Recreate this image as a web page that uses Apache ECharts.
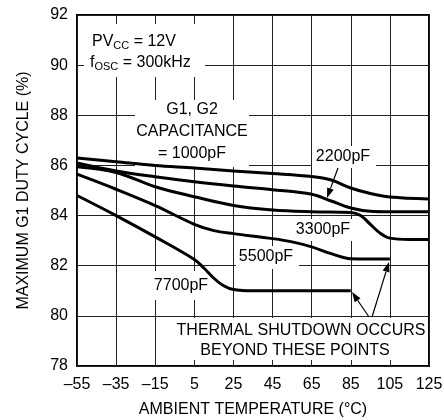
<!DOCTYPE html>
<html><head><meta charset="utf-8">
<script src="https://cdn.jsdelivr.net/npm/echarts@6/dist/echarts.min.js"></script>
<style>html,body{margin:0;padding:0;background:#fff}#c{width:444px;height:420px}</style>
</head><body><div id="c"></div>
<script>
// ---- data ----
const xTickLabels = ['–55','–35','–15','5','25','45','65','85','105','125'];
const yTicks = [78, 80, 82, 84, 86, 88, 90, 92];
const temps1000 = [-55,-35,-15,5,25,45,65,75,85,95,105,125];
const duty1000  = [86.3,86.15,86.0,85.9,85.78,85.68,85.56,85.42,85.1,84.88,84.74,84.66];
const temps2200 = [-55,-35,-15,5,25,45,65,75,85,95,105,125];
const duty2200  = [86.1,85.78,85.55,85.35,85.18,85.03,84.85,84.58,84.3,84.17,84.15,84.15];
const temps3300 = [-55,-35,-15,5,25,45,65,85,90,95,100,105,115,125];
const duty3300  = [85.95,85.72,85.15,84.75,84.4,84.22,84.15,84.12,84.0,83.65,83.3,83.1,83.05,83.05];
const temps5500 = [-55,-35,-15,5,15,25,45,55,65,75,85,95,105];
const duty5500  = [85.65,85.05,84.4,83.65,83.4,83.28,83.08,82.95,82.75,82.48,82.28,82.27,82.27];
const temps7700 = [-55,-35,-15,5,10,15,20,25,35,85];
const duty7700  = [84.8,84.0,83.15,82.25,81.9,81.5,81.2,81.05,81.0,81.0];
const X0 = -55; // axis origin (first tick)

const F = '"Liberation Sans", Arial, sans-serif';
const chart = echarts.init(document.getElementById('c'), null, {renderer:'canvas'});

function mk(t, v){ return t.map((x,i)=>[x - X0, v[i]]); }
function ser(t, v){
  return {type:'line', data:mk(t,v), smooth:0.35, symbol:'none', z:3,
    lineStyle:{color:'#000', width:3}, silent:true};
}
function txt(x,y,text,extra){
  return Object.assign({type:'text', x:x, y:y, z:10, silent:true,
    style:{text:text, font:'16px '+F, fill:'#000', align:'center', verticalAlign:'middle'}}, extra||{});
}
function box(x,y,w,h){
  return {type:'rect', z:1, silent:true, shape:{x:x,y:y,width:w,height:h}, style:{fill:'#fff'}};
}
function arrow(x1,y1,x2,y2){
  const a = Math.atan2(y2-y1, x2-x1), L=10, W=3.5;
  const bx = x2 - L*Math.cos(a), by = y2 - L*Math.sin(a);
  const px = -Math.sin(a)*W, py = Math.cos(a)*W;
  return [
    {type:'line', z:10, silent:true, shape:{x1:x1,y1:y1,x2:bx,y2:by}, style:{stroke:'#000', lineWidth:1.2}},
    {type:'polygon', z:10, silent:true, shape:{points:[[x2,y2],[bx+px,by+py],[bx-px,by-py]]}, style:{fill:'#000'}}
  ];
}
const rich = {a:{font:'16px '+F, fill:'#000'}, s:{font:'11px '+F, fill:'#000', padding:[7,0,0,0]}};

const graphics = [
  box(84,24,121,53),
  box(135,100,114,67),
  box(312,146,64,22),
  box(293,219,59,22),
  box(236,246,63,23),
  box(150,271,62,29),
  box(175,318,252,42),
  {type:'text', x:92, y:42, z:10, silent:true, style:{text:'{a|PV}{s|CC}{a| = 12V}', rich:rich, align:'left', verticalAlign:'middle'}},
  {type:'text', x:90, y:63, z:10, silent:true, style:{text:'{a|f}{s|OSC}{a| = 300kHz}', rich:rich, align:'left', verticalAlign:'middle'}},
  txt(192,110,'G1, G2'),
  txt(192,132,'CAPACITANCE'),
  txt(192,154,'= 1000pF'),
  txt(343,157,'2200pF'),
  txt(323,230,'3300pF'),
  txt(266,257,'5500pF'),
  txt(181,286,'7700pF'),
  txt(301,331,'THERMAL SHUTDOWN OCCURS'),
  txt(295,351,'BEYOND THESE POINTS'),
].concat(arrow(338,168,327,198), arrow(369,317,352,292), arrow(372,317,389,262));

chart.setOption({
  animation:false,
  backgroundColor:'#fff',
  grid:{left:77, top:15, right:15, bottom:54, containLabel:false, outerBoundsMode:'none',
    show:true, borderColor:'#000', borderWidth:2, backgroundColor:'transparent'},
  xAxis:{type:'value', min:0, max:180, interval:20,
    name:'AMBIENT TEMPERATURE (°C)', nameLocation:'middle', nameGap:36,
    nameTextStyle:{fontFamily:F, fontSize:16, color:'#000'},
    axisLine:{show:false}, axisTick:{show:false},
    axisLabel:{fontFamily:F, fontSize:16, color:'#000', margin:11, formatter:v=>xTickLabels[Math.round(v/20)]},
    splitLine:{show:true, lineStyle:{color:'#222', width:1}}},
  yAxis:{type:'value', min:yTicks[0], max:yTicks[yTicks.length-1], interval:2,
    name:'MAXIMUM G1 DUTY CYCLE (%)', nameLocation:'middle', nameGap:45,
    nameTextStyle:{fontFamily:F, fontSize:16, color:'#000'},
    axisLine:{show:false}, axisTick:{show:false},
    axisLabel:{fontFamily:F, fontSize:16, color:'#000', margin:9},
    splitLine:{show:true, lineStyle:{color:'#222', width:1}}},
  series:[ser(temps1000,duty1000), ser(temps2200,duty2200), ser(temps3300,duty3300), ser(temps5500,duty5500), ser(temps7700,duty7700)],
  graphic:{elements:graphics}
});
</script></body></html>
